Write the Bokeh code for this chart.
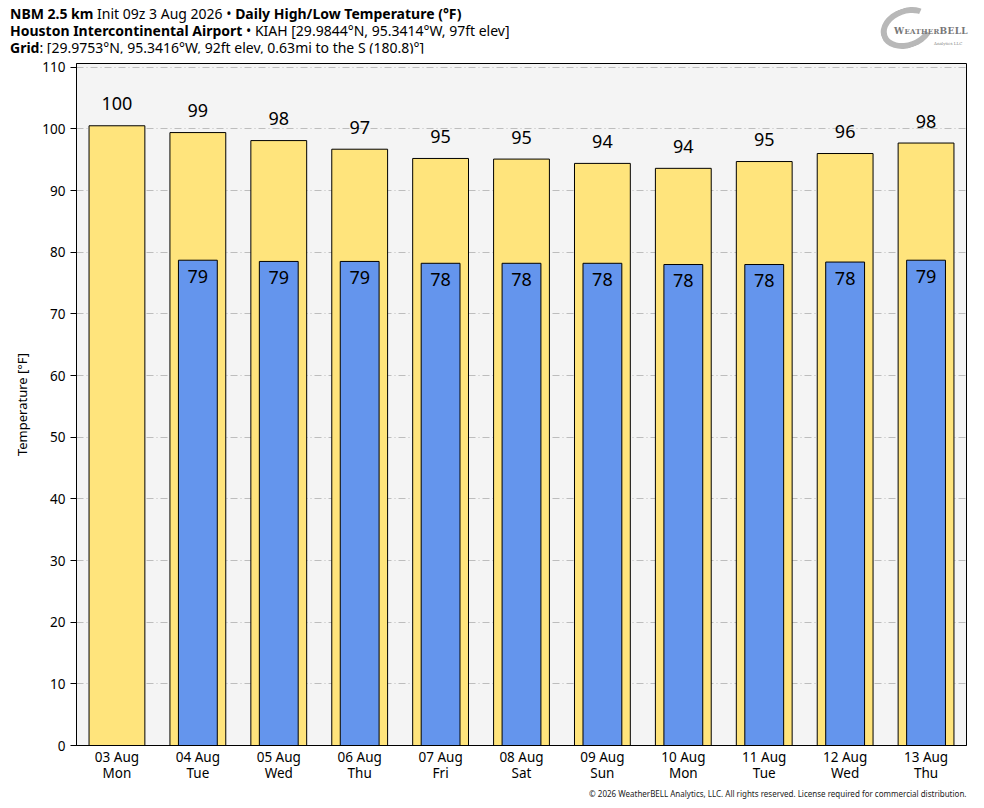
from bokeh.plotting import figure
from bokeh.models import Div, Title, FactorRange, ColumnDataSource, FixedTicker, Range1d
from bokeh.layouts import column
from bokeh.embed import file_html
from bokeh.resources import INLINE
from bokeh.core.properties import value

FONT = "Noto Sans"

dates = ["03 Aug", "04 Aug", "05 Aug", "06 Aug", "07 Aug", "08 Aug",
         "09 Aug", "10 Aug", "11 Aug", "12 Aug", "13 Aug"]
weekdays = ["Mon", "Tue", "Wed", "Thu", "Fri", "Sat", "Sun", "Mon", "Tue", "Wed", "Thu"]
highs = [100.5, 99.4, 98.1, 96.7, 95.2, 95.1, 94.4, 93.6, 94.7, 96.0, 97.7]
high_labels = ["100", "99", "98", "97", "95", "95", "94", "94", "95", "96", "98"]
lows = [None, 78.7, 78.5, 78.5, 78.2, 78.2, 78.2, 78.0, 78.0, 78.4, 78.7]
low_labels = ["", "79", "79", "79", "78", "78", "78", "78", "78", "78", "79"]
y_ticks = [0, 10, 20, 30, 40, 50, 60, 70, 80, 90, 100, 110]

cats = [f"{d}\n{w}" for d, w in zip(dates, weekdays)]

hi_src = ColumnDataSource(dict(x=cats, top=highs, label=high_labels))
lo_idx = [i for i, v in enumerate(lows) if v is not None]
lo_src = ColumnDataSource(dict(x=[cats[i] for i in lo_idx],
                               top=[lows[i] for i in lo_idx],
                               label=[low_labels[i] for i in lo_idx]))

p = figure(width=976, height=746, x_range=FactorRange(*cats, range_padding=0),
           y_range=Range1d(0, 110.6), output_backend="svg", toolbar_location=None,
           min_border_left=76, min_border_right=10, min_border_top=10, min_border_bottom=0,
           background_fill_color="#f4f4f4", border_fill_color="white")
p.x_range.range_padding = 0
p.outline_line_color = "black"
p.outline_line_width = 1

p.xgrid.grid_line_color = None
p.ygrid.grid_line_color = "#bdbdbd"
p.ygrid.grid_line_dash = "7 3 1 3"
p.ygrid.grid_line_width = 1

p.yaxis.ticker = FixedTicker(ticks=y_ticks)
p.yaxis.minor_tick_line_color = None
p.yaxis.major_tick_in = 0
p.yaxis.major_tick_out = 6
p.yaxis.axis_label = "Temperature [°F]"
p.yaxis.axis_label_text_font = FONT
p.yaxis.axis_label_text_font_style = "normal"
p.yaxis.axis_label_text_font_size = "13px"
p.yaxis.axis_label_text_color = "black"
p.yaxis.axis_label_standoff = 8
for ax in (p.xaxis[0], p.yaxis[0]):
    ax.major_label_text_font = FONT
    ax.major_label_text_font_size = "13.5px"
    ax.major_label_text_color = "black"
    ax.axis_line_color = "black"
p.xaxis.major_tick_line_color = None
p.xaxis.major_tick_out = 0
p.xaxis.major_label_standoff = 2
p.xaxis.major_label_text_line_height = 0.9

p.vbar(x="x", top="top", width=0.69, source=hi_src, fill_color="#FFE47C",
       line_color="black", line_width=1)
p.vbar(x="x", top="top", width=0.48, source=lo_src, fill_color="#6495ED",
       line_color="black", line_width=1)

p.text(x="x", y="top", text="label", source=hi_src, text_align="center",
       text_baseline="middle", y_offset=-22, text_font=value(FONT),
       text_font_size="18px", text_color="black")
p.text(x="x", y="top", text="label", source=lo_src, text_align="center",
       text_baseline="middle", y_offset=16, text_font=value(FONT),
       text_font_size="18px", text_color="black")

foot = Title(text="© 2026 WeatherBELL Analytics, LLC. All rights reserved. License required for commercial distribution.",
             align="right", text_font=FONT, text_font_size="8px",
             text_font_style="normal", text_color="#222222", standoff=2)
p.add_layout(foot, "below")

header_html = """
<div style="position:relative;width:976px;height:53px;font-family:'Noto Sans';font-size:14px;line-height:17px;color:#000;">
 <div style="position:absolute;left:10px;top:5px;white-space:nowrap;">
  <b>NBM 2.5 km</b> Init 09z 3 Aug 2026 &#8226; <b>Daily High/Low Temperature (°F)</b><br>
  <b>Houston Intercontinental Airport</b> &#8226; KIAH [29.9844°N, 95.3414°W, 97ft elev]<br>
  <b>Grid</b>: [29.9753°N, 95.3416°W, 92ft elev, 0.63mi to the S (180.8)°]
 </div>
 <div style="position:absolute;left:880px;top:8px;width:54px;height:40px;border-radius:50%;border:6px solid #b8b8b8;border-right-color:transparent;transform:rotate(-20deg);"></div>
 <div style="position:absolute;left:894px;top:23px;font-family:'DejaVu Serif';font-size:9px;font-weight:bold;color:#777;letter-spacing:0.3px;white-space:nowrap;">W<span style="font-size:7px">EATHER</span>BELL</div>
 <div style="position:absolute;left:934px;top:35px;font-family:'DejaVu Serif';font-size:4px;color:#888;white-space:nowrap;">Analytics LLC</div>
</div>
"""
header = Div(text=header_html, width=976, height=53, margin=(0, 0, 0, 0))

layout = column(header, p, spacing=0)
open("out.html", "w").write(file_html(layout, INLINE))
